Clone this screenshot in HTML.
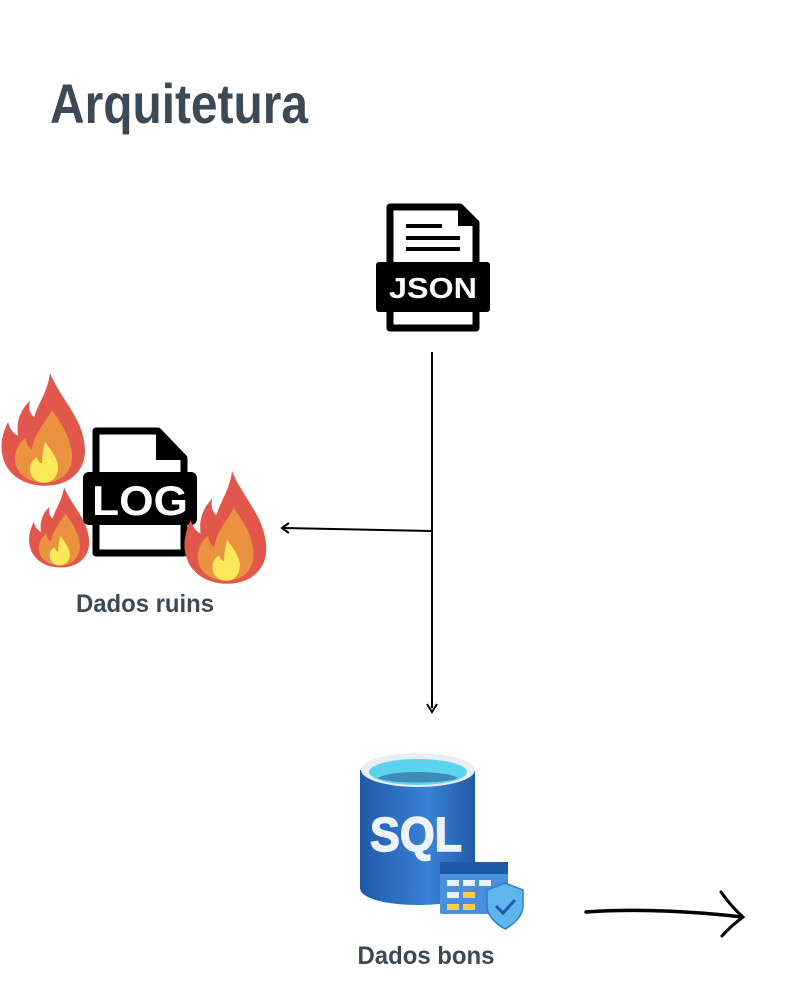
<!DOCTYPE html>
<html><head><meta charset="utf-8"><style>
html,body{margin:0;padding:0;background:#fff;}
svg{display:block}
</style></head><body>
<svg width="796" height="990" viewBox="0 0 796 990" xmlns="http://www.w3.org/2000/svg">
<defs>
<g id="flame">
<path d="M50 0 C58 20 72 35 80 55 C85 68 86 80 84 88 C80 105 65 115 45 115 C22 115 5 102 2 82 C0 70 4 58 8 50 C10 58 14 62 18 64 C16 50 20 38 30 28 C28 36 30 42 34 45 C38 32 48 18 50 0 Z" fill="#e2574c"/>
<path d="M52 38 C62 52 72 68 72 85 C72 102 60 112 44 112 C28 112 15 102 15 88 C15 78 20 70 26 66 C26 72 28 76 32 78 C34 62 44 52 52 38 Z" fill="#ea9240"/>
<path d="M45 70 C52 80 58 88 58 96 C58 106 52 112 44 112 C36 112 30 106 30 98 C30 92 33 88 37 86 C38 90 40 92 42 92 C42 84 43 78 45 70 Z" fill="#fbe95a"/>
</g>
<linearGradient id="cyl" x1="0" x2="1">
<stop offset="0" stop-color="#1f5aa8"/><stop offset="0.6" stop-color="#3a82d6"/><stop offset="1" stop-color="#1f5aa8"/>
</linearGradient>
</defs>
<text x="50" y="123" font-family="'Liberation Sans Narrow','Liberation Sans',sans-serif" font-weight="bold" font-size="56" fill="#3c4a57" textLength="258" lengthAdjust="spacingAndGlyphs">Arquitetura</text>

<!-- JSON icon -->
<path d="M390 207 H460 L476 223 V328 H390 Z" fill="#fff" stroke="#000" stroke-width="7" stroke-linejoin="round"/>
<path d="M458 207 V226 H476 Z" fill="#000"/>
<rect x="406" y="224" width="36" height="4" fill="#000"/>
<rect x="406" y="236" width="54" height="4" fill="#000"/>
<rect x="406" y="247" width="54" height="4" fill="#000"/>
<rect x="376" y="262" width="114" height="50" rx="3" fill="#000"/>
<text x="433" y="298" text-anchor="middle" font-family="'Liberation Sans',sans-serif" font-weight="bold" font-size="29" fill="#fff" textLength="88" lengthAdjust="spacingAndGlyphs">JSON</text>

<!-- connectors -->
<line x1="432" y1="352" x2="432" y2="708" stroke="#000" stroke-width="2"/>
<path d="M427 704 L432 712 L437 704" fill="none" stroke="#000" stroke-width="2"/>
<line x1="432" y1="531" x2="284" y2="528" stroke="#000" stroke-width="2"/>
<path d="M289 523 L282 528 L289 533" fill="none" stroke="#000" stroke-width="2"/>

<use href="#flame" transform="translate(0,373) scale(1.0,0.98)"/>
<use href="#flame" transform="translate(28,487) scale(0.72,0.70)"/>

<!-- LOG icon -->
<path d="M96 431 H158 L184 458 V553 H96 Z" fill="#fff" stroke="#000" stroke-width="7" stroke-linejoin="round"/>
<path d="M156 431 V460 H184 Z" fill="#000"/>
<rect x="83" y="472" width="114" height="53" rx="6" fill="#000"/>
<text x="140" y="515" text-anchor="middle" font-family="'Liberation Sans',sans-serif" font-weight="bold" font-size="42" fill="#fff" textLength="96" lengthAdjust="spacingAndGlyphs">LOG</text>

<use href="#flame" transform="translate(183,471) scale(0.98,0.98)"/>

<text x="145" y="612" text-anchor="middle" font-family="'Liberation Sans Narrow','Liberation Sans',sans-serif" font-weight="bold" font-size="25" fill="#3c4a57" textLength="138" lengthAdjust="spacingAndGlyphs">Dados ruins</text>

<!-- SQL icon -->
<path d="M360 770 V888 C360 898 385 905 418 905 C450 905 475 898 475 888 V770 Z" fill="url(#cyl)"/>
<ellipse cx="418" cy="770" rx="57" ry="17" fill="#e8eef5"/>
<ellipse cx="418" cy="772" rx="49" ry="13" fill="#5dd4ee"/>
<path d="M378 778 C390 770 445 770 458 778 C448 784 388 784 378 778 Z" fill="#3e8ab8"/>
<text x="416" y="851" text-anchor="middle" font-family="'Liberation Sans',sans-serif" font-weight="bold" font-size="48" fill="#eef2f7" stroke="#eef2f7" stroke-width="1.5" textLength="92" lengthAdjust="spacingAndGlyphs">SQL</text>
<rect x="440" y="862" width="68" height="52" rx="2" fill="#4a8fdd"/>
<rect x="440" y="862" width="68" height="12" fill="#1f5aa8"/>
<g fill="#e8f0f8">
<rect x="447" y="880" width="12" height="6"/><rect x="463" y="880" width="12" height="6"/><rect x="479" y="880" width="12" height="6"/>
<rect x="447" y="892" width="12" height="6"/>
</g>
<g fill="#f7d046">
<rect x="463" y="892" width="12" height="6"/><rect x="447" y="904" width="12" height="6"/><rect x="463" y="904" width="12" height="6"/>
</g>
<path d="M505 883 L523 890 V906 C523 916 514 924 505 929 C496 924 487 916 487 906 V890 Z" fill="#5fb6ec" stroke="#2c7fcf" stroke-width="1.5"/>
<path d="M496 906 L503 913 L515 900" fill="none" stroke="#1f5aa8" stroke-width="3"/>

<text x="426" y="964" text-anchor="middle" font-family="'Liberation Sans Narrow','Liberation Sans',sans-serif" font-weight="bold" font-size="25" fill="#3c4a57" textLength="137" lengthAdjust="spacingAndGlyphs">Dados bons</text>

<!-- sketch arrow -->
<path d="M586 912 C640 908 700 912 742 917" fill="none" stroke="#000" stroke-width="3.5" stroke-linecap="round"/>
<path d="M721 892 C728 902 735 910 743 917 C735 923 728 929 722 936" fill="none" stroke="#000" stroke-width="3" stroke-linecap="round"/>
</svg>
</body></html>
